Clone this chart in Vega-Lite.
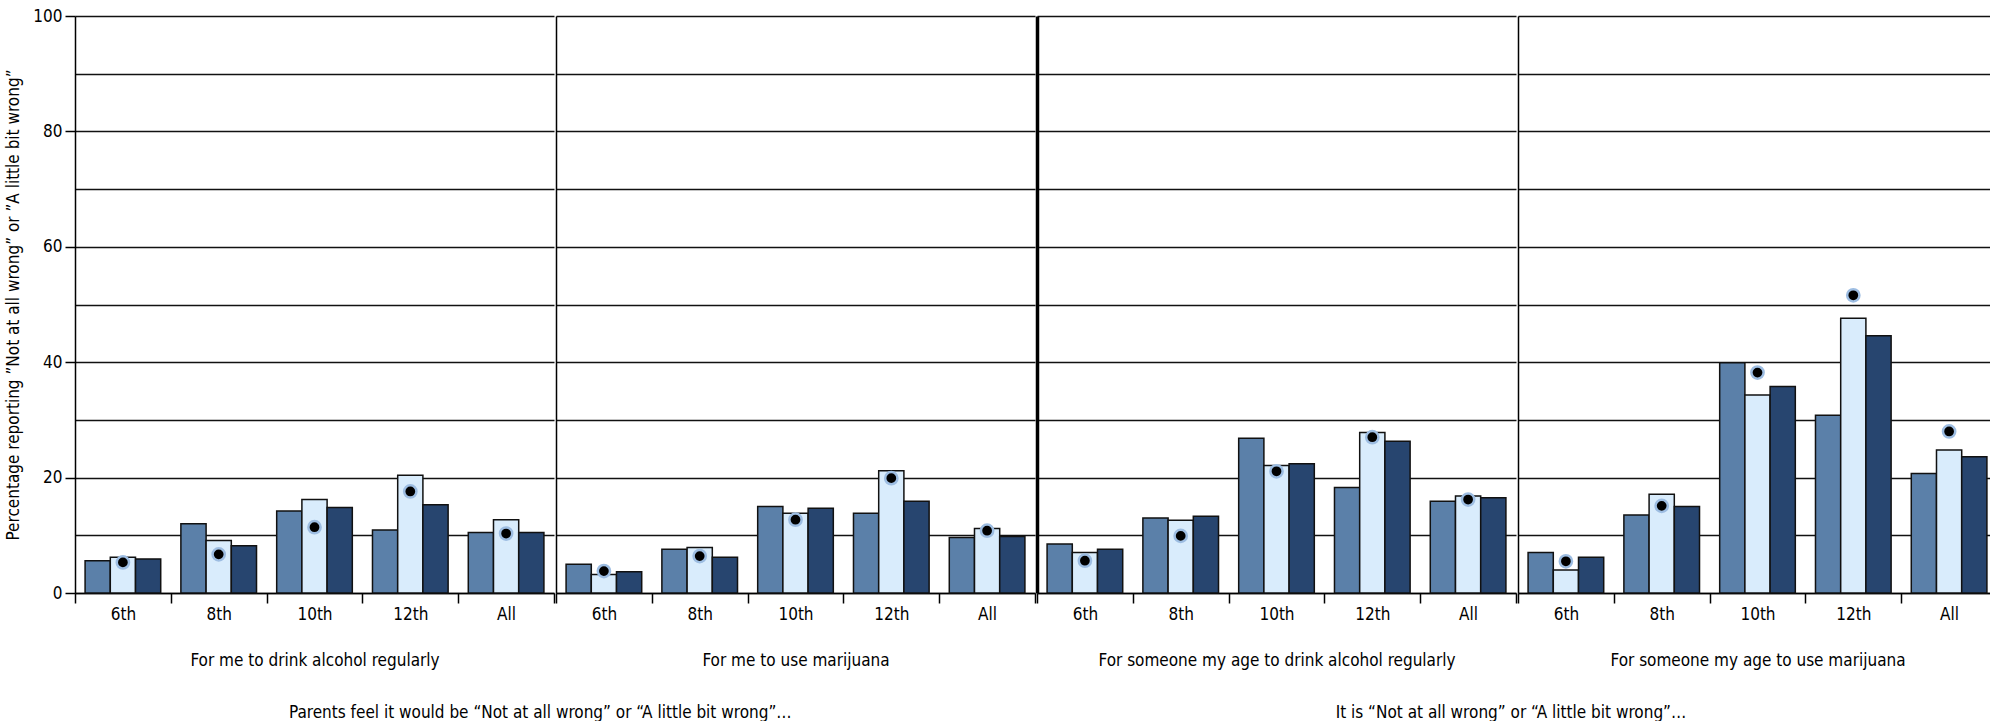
{
  "$schema": "https://vega.github.io/schema/vega-lite/v6.json",
  "padding": {"left": 4, "top": 7, "right": 0, "bottom": 0},
  "background": "white",
  "datasets": {
    "bars": [
      {"p": "For me to drink alcohol regularly", "g": "6th", "s": "s1", "v": 5.6},
      {"p": "For me to drink alcohol regularly", "g": "6th", "s": "s2", "v": 6.2},
      {"p": "For me to drink alcohol regularly", "g": "6th", "s": "s3", "v": 5.9},
      {"p": "For me to drink alcohol regularly", "g": "8th", "s": "s1", "v": 12.0},
      {"p": "For me to drink alcohol regularly", "g": "8th", "s": "s2", "v": 9.1},
      {"p": "For me to drink alcohol regularly", "g": "8th", "s": "s3", "v": 8.2},
      {"p": "For me to drink alcohol regularly", "g": "10th", "s": "s1", "v": 14.2},
      {"p": "For me to drink alcohol regularly", "g": "10th", "s": "s2", "v": 16.2},
      {"p": "For me to drink alcohol regularly", "g": "10th", "s": "s3", "v": 14.8},
      {"p": "For me to drink alcohol regularly", "g": "12th", "s": "s1", "v": 10.9},
      {"p": "For me to drink alcohol regularly", "g": "12th", "s": "s2", "v": 20.4},
      {"p": "For me to drink alcohol regularly", "g": "12th", "s": "s3", "v": 15.3},
      {"p": "For me to drink alcohol regularly", "g": "All", "s": "s1", "v": 10.5},
      {"p": "For me to drink alcohol regularly", "g": "All", "s": "s2", "v": 12.7},
      {"p": "For me to drink alcohol regularly", "g": "All", "s": "s3", "v": 10.5},
      {"p": "For me to use marijuana", "g": "6th", "s": "s1", "v": 5.0},
      {"p": "For me to use marijuana", "g": "6th", "s": "s2", "v": 3.2},
      {"p": "For me to use marijuana", "g": "6th", "s": "s3", "v": 3.7},
      {"p": "For me to use marijuana", "g": "8th", "s": "s1", "v": 7.6},
      {"p": "For me to use marijuana", "g": "8th", "s": "s2", "v": 7.9},
      {"p": "For me to use marijuana", "g": "8th", "s": "s3", "v": 6.2},
      {"p": "For me to use marijuana", "g": "10th", "s": "s1", "v": 15.0},
      {"p": "For me to use marijuana", "g": "10th", "s": "s2", "v": 13.8},
      {"p": "For me to use marijuana", "g": "10th", "s": "s3", "v": 14.7},
      {"p": "For me to use marijuana", "g": "12th", "s": "s1", "v": 13.8},
      {"p": "For me to use marijuana", "g": "12th", "s": "s2", "v": 21.2},
      {"p": "For me to use marijuana", "g": "12th", "s": "s3", "v": 15.9},
      {"p": "For me to use marijuana", "g": "All", "s": "s1", "v": 9.6},
      {"p": "For me to use marijuana", "g": "All", "s": "s2", "v": 11.2},
      {"p": "For me to use marijuana", "g": "All", "s": "s3", "v": 9.8},
      {"p": "For someone my age to drink alcohol regularly", "g": "6th", "s": "s1", "v": 8.5},
      {"p": "For someone my age to drink alcohol regularly", "g": "6th", "s": "s2", "v": 7.0},
      {"p": "For someone my age to drink alcohol regularly", "g": "6th", "s": "s3", "v": 7.6},
      {"p": "For someone my age to drink alcohol regularly", "g": "8th", "s": "s1", "v": 13.0},
      {"p": "For someone my age to drink alcohol regularly", "g": "8th", "s": "s2", "v": 12.6},
      {"p": "For someone my age to drink alcohol regularly", "g": "8th", "s": "s3", "v": 13.3},
      {"p": "For someone my age to drink alcohol regularly", "g": "10th", "s": "s1", "v": 26.8},
      {"p": "For someone my age to drink alcohol regularly", "g": "10th", "s": "s2", "v": 22.1},
      {"p": "For someone my age to drink alcohol regularly", "g": "10th", "s": "s3", "v": 22.4},
      {"p": "For someone my age to drink alcohol regularly", "g": "12th", "s": "s1", "v": 18.3},
      {"p": "For someone my age to drink alcohol regularly", "g": "12th", "s": "s2", "v": 27.8},
      {"p": "For someone my age to drink alcohol regularly", "g": "12th", "s": "s3", "v": 26.3},
      {"p": "For someone my age to drink alcohol regularly", "g": "All", "s": "s1", "v": 15.9},
      {"p": "For someone my age to drink alcohol regularly", "g": "All", "s": "s2", "v": 16.8},
      {"p": "For someone my age to drink alcohol regularly", "g": "All", "s": "s3", "v": 16.5},
      {"p": "For someone my age to use marijuana", "g": "6th", "s": "s1", "v": 7.0},
      {"p": "For someone my age to use marijuana", "g": "6th", "s": "s2", "v": 4.0},
      {"p": "For someone my age to use marijuana", "g": "6th", "s": "s3", "v": 6.2},
      {"p": "For someone my age to use marijuana", "g": "8th", "s": "s1", "v": 13.5},
      {"p": "For someone my age to use marijuana", "g": "8th", "s": "s2", "v": 17.1},
      {"p": "For someone my age to use marijuana", "g": "8th", "s": "s3", "v": 15.0},
      {"p": "For someone my age to use marijuana", "g": "10th", "s": "s1", "v": 39.9},
      {"p": "For someone my age to use marijuana", "g": "10th", "s": "s2", "v": 34.3},
      {"p": "For someone my age to use marijuana", "g": "10th", "s": "s3", "v": 35.8},
      {"p": "For someone my age to use marijuana", "g": "12th", "s": "s1", "v": 30.8},
      {"p": "For someone my age to use marijuana", "g": "12th", "s": "s2", "v": 47.6},
      {"p": "For someone my age to use marijuana", "g": "12th", "s": "s3", "v": 44.6},
      {"p": "For someone my age to use marijuana", "g": "All", "s": "s1", "v": 20.7},
      {"p": "For someone my age to use marijuana", "g": "All", "s": "s2", "v": 24.8},
      {"p": "For someone my age to use marijuana", "g": "All", "s": "s3", "v": 23.6}
    ],
    "dots": [
      {"p": "For me to drink alcohol regularly", "g": "6th", "v": 5.3},
      {"p": "For me to drink alcohol regularly", "g": "8th", "v": 6.7},
      {"p": "For me to drink alcohol regularly", "g": "10th", "v": 11.4},
      {"p": "For me to drink alcohol regularly", "g": "12th", "v": 17.6},
      {"p": "For me to drink alcohol regularly", "g": "All", "v": 10.3},
      {"p": "For me to use marijuana", "g": "6th", "v": 3.8},
      {"p": "For me to use marijuana", "g": "8th", "v": 6.4},
      {"p": "For me to use marijuana", "g": "10th", "v": 12.7},
      {"p": "For me to use marijuana", "g": "12th", "v": 19.9},
      {"p": "For me to use marijuana", "g": "All", "v": 10.8},
      {"p": "For someone my age to drink alcohol regularly", "g": "6th", "v": 5.6},
      {"p": "For someone my age to drink alcohol regularly", "g": "8th", "v": 9.9},
      {"p": "For someone my age to drink alcohol regularly", "g": "10th", "v": 21.1},
      {"p": "For someone my age to drink alcohol regularly", "g": "12th", "v": 27.0},
      {"p": "For someone my age to drink alcohol regularly", "g": "All", "v": 16.2},
      {"p": "For someone my age to use marijuana", "g": "6th", "v": 5.5},
      {"p": "For someone my age to use marijuana", "g": "8th", "v": 15.1},
      {"p": "For someone my age to use marijuana", "g": "10th", "v": 38.2},
      {"p": "For someone my age to use marijuana", "g": "12th", "v": 51.6},
      {"p": "For someone my age to use marijuana", "g": "All", "v": 28.0}
    ]
  },
  "spacing": 0,
  "hconcat": [
    {
      "spacing": 0,
      "title": {"text": "Parents feel it would be \u201cNot at all wrong\u201d or \u201cA little bit wrong\u201d\u2026", "orient": "bottom", "anchor": "middle", "offset": 37, "dx": 20},
      "hconcat": [
        {
          "width": 479, "height": 577,
          "layer": [
            {
              "data": {"name": "bars"},
              "transform": [{"filter": "datum.p === 'For me to drink alcohol regularly'"}],
              "mark": {"type": "bar", "stroke": "#111", "strokeWidth": 1.5},
              "encoding": {
                "x": {"field": "g", "type": "nominal", "scale": {"domain": ["6th", "8th", "10th", "12th", "All"], "paddingInner": 0, "paddingOuter": 0}, "axis": {"title": "For me to drink alcohol regularly"}},
                "xOffset": {"field": "s", "type": "nominal", "scale": {"paddingOuter": 0.4, "paddingInner": 0}},
                "y": {"field": "v", "type": "quantitative", "scale": {"domain": [0, 100]}, "axis": {"title": "Percentage reporting \u201dNot at all wrong\u201d or \u201dA little bit wrong\u201d", "values": [0, 10, 20, 30, 40, 50, 60, 70, 80, 90, 100], "labelExpr": "datum.value % 20 === 0 ? datum.label : ''", "tickSize": 10, "tickColor": "black", "tickWidth": 1.5, "tickOpacity": {"condition": {"test": "datum.value % 20 === 0", "value": 1}, "value": 0}, "domain": true, "titlePadding": 10}},
                "color": {"field": "s", "type": "nominal", "scale": {"domain": ["s1", "s2", "s3"], "range": ["#5b80a9", "#d9ecfc", "#27456f"]}, "legend": null}
              }
            },
            {
              "data": {"name": "dots"},
              "transform": [{"filter": "datum.p === 'For me to drink alcohol regularly'"}],
              "mark": {"type": "point", "filled": true, "fill": "black", "stroke": "#9dbde2", "strokeWidth": 2.5, "size": 150, "opacity": 1},
              "encoding": {
                "x": {"field": "g", "type": "nominal"},
                "y": {"field": "v", "type": "quantitative"}
              }
            }
          ]
        },
        {
          "width": 479, "height": 577,
          "layer": [
            {
              "data": {"name": "bars"},
              "transform": [{"filter": "datum.p === 'For me to use marijuana'"}],
              "mark": {"type": "bar", "stroke": "#111", "strokeWidth": 1.5},
              "encoding": {
                "x": {"field": "g", "type": "nominal", "scale": {"domain": ["6th", "8th", "10th", "12th", "All"], "paddingInner": 0, "paddingOuter": 0}, "axis": {"title": "For me to use marijuana"}},
                "xOffset": {"field": "s", "type": "nominal", "scale": {"paddingOuter": 0.4, "paddingInner": 0}},
                "y": {"field": "v", "type": "quantitative", "scale": {"domain": [0, 100]}, "axis": {"title": null, "values": [0, 10, 20, 30, 40, 50, 60, 70, 80, 90, 100], "labels": false, "ticks": false, "domain": true}},
                "color": {"field": "s", "type": "nominal", "scale": {"domain": ["s1", "s2", "s3"], "range": ["#5b80a9", "#d9ecfc", "#27456f"]}, "legend": null}
              }
            },
            {
              "data": {"name": "dots"},
              "transform": [{"filter": "datum.p === 'For me to use marijuana'"}],
              "mark": {"type": "point", "filled": true, "fill": "black", "stroke": "#9dbde2", "strokeWidth": 2.5, "size": 150, "opacity": 1},
              "encoding": {
                "x": {"field": "g", "type": "nominal"},
                "y": {"field": "v", "type": "quantitative"}
              }
            }
          ]
        }
      ]
    },
    {
      "spacing": 0,
      "title": {"text": "It is \u201cNot at all wrong\u201d or \u201cA little bit wrong\u201d\u2026", "orient": "bottom", "anchor": "middle", "offset": 37, "dx": -6},
      "hconcat": [
        {
          "width": 479, "height": 577,
          "layer": [
            {
              "data": {"name": "bars"},
              "transform": [{"filter": "datum.p === 'For someone my age to drink alcohol regularly'"}],
              "mark": {"type": "bar", "stroke": "#111", "strokeWidth": 1.5},
              "encoding": {
                "x": {"field": "g", "type": "nominal", "scale": {"domain": ["6th", "8th", "10th", "12th", "All"], "paddingInner": 0, "paddingOuter": 0}, "axis": {"title": "For someone my age to drink alcohol regularly"}},
                "xOffset": {"field": "s", "type": "nominal", "scale": {"paddingOuter": 0.4, "paddingInner": 0}},
                "y": {"field": "v", "type": "quantitative", "scale": {"domain": [0, 100]}, "axis": {"title": null, "values": [0, 10, 20, 30, 40, 50, 60, 70, 80, 90, 100], "labels": false, "ticks": false, "domain": true, "domainWidth": 3.5}},
                "color": {"field": "s", "type": "nominal", "scale": {"domain": ["s1", "s2", "s3"], "range": ["#5b80a9", "#d9ecfc", "#27456f"]}, "legend": null}
              }
            },
            {
              "data": {"name": "dots"},
              "transform": [{"filter": "datum.p === 'For someone my age to drink alcohol regularly'"}],
              "mark": {"type": "point", "filled": true, "fill": "black", "stroke": "#9dbde2", "strokeWidth": 2.5, "size": 150, "opacity": 1},
              "encoding": {
                "x": {"field": "g", "type": "nominal"},
                "y": {"field": "v", "type": "quantitative"}
              }
            }
          ]
        },
        {
          "width": 479, "height": 577,
          "layer": [
            {
              "data": {"name": "bars"},
              "transform": [{"filter": "datum.p === 'For someone my age to use marijuana'"}],
              "mark": {"type": "bar", "stroke": "#111", "strokeWidth": 1.5},
              "encoding": {
                "x": {"field": "g", "type": "nominal", "scale": {"domain": ["6th", "8th", "10th", "12th", "All"], "paddingInner": 0, "paddingOuter": 0}, "axis": {"title": "For someone my age to use marijuana"}},
                "xOffset": {"field": "s", "type": "nominal", "scale": {"paddingOuter": 0.4, "paddingInner": 0}},
                "y": {"field": "v", "type": "quantitative", "scale": {"domain": [0, 100]}, "axis": {"title": null, "values": [0, 10, 20, 30, 40, 50, 60, 70, 80, 90, 100], "labels": false, "ticks": false, "domain": true}},
                "color": {"field": "s", "type": "nominal", "scale": {"domain": ["s1", "s2", "s3"], "range": ["#5b80a9", "#d9ecfc", "#27456f"]}, "legend": null}
              }
            },
            {
              "data": {"name": "dots"},
              "transform": [{"filter": "datum.p === 'For someone my age to use marijuana'"}],
              "mark": {"type": "point", "filled": true, "fill": "black", "stroke": "#9dbde2", "strokeWidth": 2.5, "size": 150, "opacity": 1},
              "encoding": {
                "x": {"field": "g", "type": "nominal"},
                "y": {"field": "v", "type": "quantitative"}
              }
            }
          ]
        }
      ]
    }
  ],
  "config": {
    "font": "Liberation Sans Narrow, DejaVu Sans Condensed, Roboto Condensed, Liberation Sans",
    "view": {"stroke": null},
    "concat": {"spacing": 0},
    "axis": {
      "labelFont": "Liberation Sans Narrow, DejaVu Sans Condensed, Roboto Condensed, Liberation Sans",
      "titleFont": "Liberation Sans Narrow, DejaVu Sans Condensed, Roboto Condensed, Liberation Sans",
      "labelFontSize": 17, "titleFontSize": 17, "titleFontWeight": "normal",
      "labelColor": "black", "titleColor": "black",
      "domainColor": "black", "domainWidth": 1.5,
      "gridColor": "#111", "gridWidth": 1.5, "gridOpacity": 1
    },
    "axisX": {"tickBand": "extent", "tickSize": 10, "tickColor": "black", "tickWidth": 1.5, "labelAngle": 0, "labelPadding": 3, "titlePadding": 30, "grid": false},
    "axisY": {"grid": true, "labelPadding": 3},
    "title": {"font": "Liberation Sans Narrow, DejaVu Sans Condensed, Roboto Condensed, Liberation Sans", "fontSize": 17, "fontWeight": "normal", "color": "black"}
  }
}
